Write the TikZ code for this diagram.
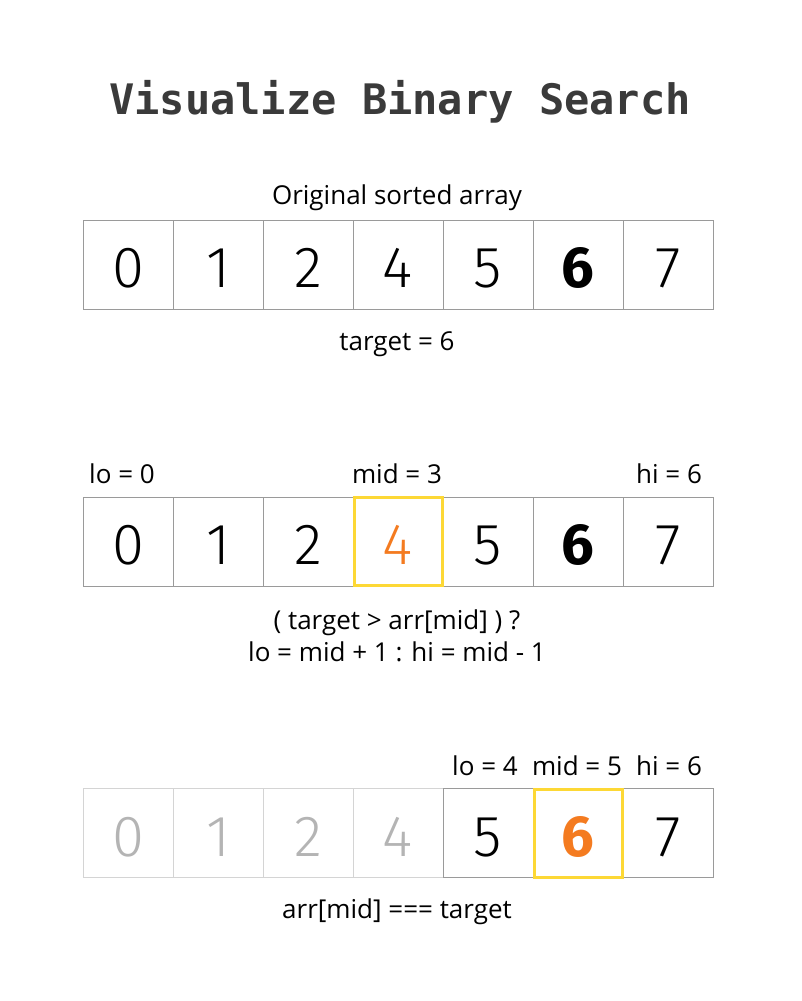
\documentclass[tikz,border=0pt]{standalone}
\usepackage{fontspec}
\setmainfont{Open Sans}
\newfontfamily\digitfont{Fira Sans Light}
\newfontfamily\digitbold{Fira Sans}[BoldFont={Fira Sans Bold}]
\newfontfamily\titlefont{DejaVu Sans Mono}
\definecolor{titlegray}{HTML}{3A3A3A}
\definecolor{cellline}{HTML}{9A9A9A}
\definecolor{fadeline}{HTML}{D4D4D4}
\definecolor{fadetext}{HTML}{B4B4B4}
\definecolor{hlorange}{HTML}{F47B20}
\definecolor{hlyellow}{HTML}{FDD835}
\begin{document}
\begin{tikzpicture}[x=1pt,y=-1pt,
  cell/.style={draw=cellline,line width=0.9pt,minimum width=90pt,minimum height=89pt,inner sep=0pt,
    text height=46pt,text depth=0pt,
    font=\digitfont\fontsize{58}{58}\selectfont,text=black},
  fade/.style={draw=fadeline,text=fadetext},
  boldcell/.style={font=\digitbold\bfseries\fontsize{58}{58}\selectfont},
  hl/.style={draw=hlyellow,line width=3pt,minimum width=88pt,minimum height=88pt,inner sep=0pt},
  lbl/.style={font=\fontsize{26}{32}\selectfont,text=black,inner sep=0pt,align=center},
  ttl/.style={font=\titlefont\bfseries\fontsize{42}{42}\selectfont,text=titlegray}]
\useasboundingbox[fill=white] (0,0) rectangle (801,1001);
\node[ttl] (title) at (400,102) {Visualize Binary Search};
% array 1
\node[lbl] (cap1) at (397,198) {Original sorted array};
\foreach \v/\i in {0/0,1/1,2/2,4/3,5/4,7/6}{
  \node[cell] (a\i) at (128+90*\i,264.5) {\v};
}
\node[cell,boldcell] (a5) at (128+90*5,264.5) {6};
\node[lbl] (tg) at (397,344) {target = 6};
% array 2
\node[lbl] (lo1) at (122,474) {lo = 0};
\node[lbl] (mid1) at (397,474) {mid = 3};
\node[lbl] (hi1) at (669,474) {hi = 6};
\foreach \v/\i in {0/0,1/1,2/2,5/4,7/6}{
  \node[cell] (b\i) at (128+90*\i,541.5) {\v};
}
\node[cell,boldcell] (b5) at (128+90*5,541.5) {6};
\node[cell,text=hlorange] (b3) at (128+90*3,541.5) {4};
\node[hl] (hb) at (b3) {};
\node[lbl] (cond) at (397,636) {( target > arr[mid] ) ?\\lo = mid + 1 : hi = mid - 1};
% array 3
\node[lbl] (lo2) at (485,766) {lo = 4};
\node[lbl] (mid2) at (577,766) {mid = 5};
\node[lbl] (hi2) at (669,766) {hi = 6};
\foreach \v/\i in {0/0,1/1,2/2,4/3}{
  \node[cell,fade] (c\i) at (128+90*\i,833) {\v};
}
\node[cell] (c4) at (128+90*4,833) {5};
\node[cell] (c6) at (128+90*6,833) {7};
\node[cell,boldcell,text=hlorange] (c5) at (128+90*5,833) {6};
\node[hl] (hc) at (c5) {};
\node[lbl] (res) at (397,912) {arr[mid] === target};
\end{tikzpicture}
\end{document}
